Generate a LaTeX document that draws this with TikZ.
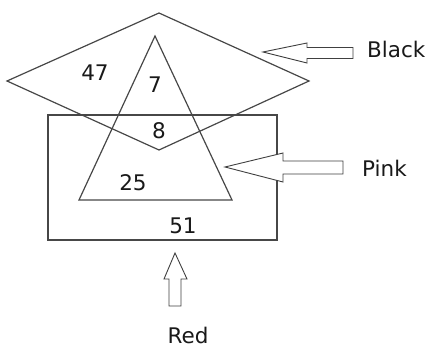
\documentclass[tikz,border=0pt]{standalone}
\usepackage{fontspec}
\setmainfont{DejaVu Sans}
\begin{document}
\begin{tikzpicture}[x=1pt,y=-1pt,
  shape line/.style={draw=black!72,line width=1.2pt,line join=miter},
  block arrow/.style={draw=black!75,line width=0.9pt,fill=white,line join=miter},
  count/.style={font=\fontsize{21.5}{22}\selectfont,text=black!90,inner sep=0pt},
  tag/.style={font=\fontsize{21.5}{22}\selectfont,text=black!90,inner sep=0pt}]
\useasboundingbox[fill=white] (0,0) rectangle (431,347);

% rectangle (Red)
\coordinate (rTL) at (48,115);
\coordinate (rBR) at (277,240);
\draw[shape line] (rTL) rectangle (rBR);

% diamond (Black)
\coordinate (dT) at (159,13);
\coordinate (dL) at (7,81);
\coordinate (dR) at (309,81);
\coordinate (dB) at (159,150);
\draw[shape line] (dT) -- (dR) -- (dB) -- (dL) -- cycle;

% triangle (Pink)
\coordinate (tA) at (155,36);
\coordinate (tL) at (79,200);
\coordinate (tR) at (232,200);
\draw[shape line] (tA) -- (tR) -- (tL) -- cycle;

% region counts
\node[count] (n47) at (95,73) {47};
\node[count] (n7) at (155,85) {7};
\node[count] (n8) at (159,131) {8};
\node[count] (n25) at (133,183) {25};
\node[count] (n51) at (183,226) {51};

% pointer to the diamond
\draw[block arrow] (263,52) -- (307,43) -- (307,47.5) -- (353,47.5) -- (353,58.5)
  -- (307,58.5) -- (307,63) -- cycle;
\node[tag,anchor=west] (black) at (367,49) {Black};

% pointer to the triangle
\draw[block arrow] (225,167) -- (283,153) -- (283,161) -- (343,161) -- (343,174)
  -- (283,174) -- (283,182) -- cycle;
\node[tag,anchor=west] (pink) at (362,168) {Pink};

% pointer to the rectangle
\draw[block arrow] (175,253) -- (187,279) -- (181,279) -- (181,306) -- (169,306)
  -- (169,279) -- (164,279) -- cycle;
\node[tag] (red) at (188,335) {Red};
\end{tikzpicture}
\end{document}
